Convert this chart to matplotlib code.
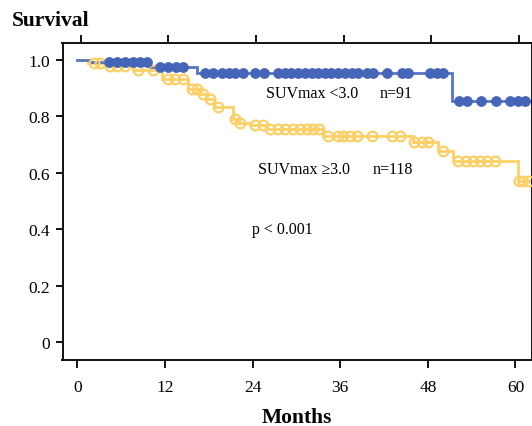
import numpy as np
import matplotlib
matplotlib.use("Agg")
import matplotlib.pyplot as plt

# ---------------- data ----------------
# SUVmax < 3.0 (n=91)
low_step_times = [0.0, 1.7, 9.9, 16.4, 51.26]
low_step_surv = [1.0, 0.992, 0.975, 0.954, 0.856]
low_censor = [4.36, 5.37, 6.5, 7.55, 8.56, 9.47, 11.3, 12.4, 13.5, 14.5,
              17.5, 18.6, 19.75, 20.7, 21.6, 22.7, 24.3, 25.6, 27.5, 28.4,
              29.3, 30.2, 31.2, 32.1, 33.0, 33.9, 34.8, 35.7, 36.6, 37.6,
              38.5, 39.6, 40.5, 42.4, 44.4, 45.3, 48.3, 49.2, 50.1,
              52.2, 53.4, 55.3, 57.4, 59.3, 60.3, 61.3]

# SUVmax >= 3.0 (n=118)
high_step_times = [0.0, 1.44, 3.77, 7.6, 11.58, 15.14, 16.78, 17.74, 18.7,
                   21.3, 21.99, 23.6, 25.9, 33.67, 46.0, 49.42, 51.4, 60.38]
high_step_surv = [1.0, 0.99, 0.978, 0.966, 0.933, 0.897, 0.88, 0.862, 0.834,
                  0.792, 0.778, 0.768, 0.755, 0.732, 0.709, 0.679, 0.643, 0.573]
high_censor = [2.3, 3.08, 4.45, 5.37, 6.5, 8.33, 10.38, 12.44, 13.36, 14.49,
               15.64, 16.33, 17.23, 18.15, 19.29, 21.58, 22.26, 24.32, 25.45,
               26.37, 27.5, 28.42, 29.56, 30.48, 31.4, 32.3, 33.12, 34.27,
               35.73, 36.41, 37.33, 38.25, 40.3, 43.04, 44.18, 46.1, 47.15,
               48.05, 50.1, 52.16, 53.2, 54.2, 55.14, 56.05, 57.19, 60.45,
               61.07, 61.9]

end_time = 62.5
x_ticks = [0, 12, 24, 36, 48, 60]
y_ticks = [0, 0.2, 0.4, 0.6, 0.8, 1.0]
y_tick_labels = ["0", "0.2", "0.4", "0.6", "0.8", "1.0"]

BLUE = "#4565b8"
BLUE_LINE = "#5577c4"
YELLOW = "#fcd066"

plt.rcParams['font.family'] = ['Liberation Serif', 'DejaVu Serif']

W, H = 532, 427
fig = plt.figure(figsize=(W / 100, H / 100), dpi=100)
ax = fig.add_axes([62.5 / W, 1 - 361 / H, (531.5 - 62.5) / W, (361 - 44) / H])


def level_at(times, surv, t):
    idx = np.searchsorted(times, t, side='right') - 1
    return np.asarray(surv)[idx]


def draw_curve(times, surv, censor, color, line_color, filled):
    xs = list(times) + [end_time]
    ys = list(surv) + [surv[-1]]
    ax.step(xs, ys, where='post', color=line_color, lw=2.0, zorder=2,
            solid_joinstyle='miter')
    cy = level_at(times, surv, np.asarray(censor))
    if filled:
        ax.plot(censor, cy, 'o', ms=7.2, mfc=color, mec=color, mew=0.5,
                zorder=4, ls='none')
    else:
        ax.plot(censor, cy, 'o', ms=7.0, mfc='none', mec=color, mew=1.6,
                zorder=3, ls='none')


draw_curve(high_step_times, high_step_surv, high_censor, YELLOW, YELLOW, False)
draw_curve(low_step_times, low_step_surv, low_censor, BLUE, BLUE_LINE, True)

ax.set_xlim(-2.05, 62.2)
ax.set_ylim(-0.062, 1.06)
ax.set_xticks(x_ticks)
ax.set_xticklabels([str(t) for t in x_ticks], fontsize=12.5)
ax.set_yticks(y_ticks)
ax.set_yticklabels(y_tick_labels, fontsize=12.5)
ax.tick_params(axis='x', direction='out', length=6, width=1.3, pad=8)
ax.tick_params(axis='y', direction='out', length=5, width=1.3, pad=4)
for s in ax.spines.values():
    s.set_linewidth(1.4)
    s.set_color('#111111')

sec = ax.secondary_xaxis('top', functions=(lambda x: x - 0.45, lambda x: x + 0.45))
sec.set_xticks(x_ticks)
sec.set_xticklabels([])
sec.tick_params(direction='out', length=6, width=1.3)
sec.spines['top'].set_visible(False)

# labels
fig.text(12 / W, 1 - 21 / H, "Survival", fontsize=15.5, fontweight='bold',
         ha='left', va='center')
fig.text(297 / W, 1 - 418 / H, "Months", fontsize=15.5, fontweight='bold',
         ha='center', va='center')

fig.text(266 / W, 1 - 94 / H, "SUVmax <3.0", fontsize=11.5, ha='left', va='center')
fig.text(380 / W, 1 - 94 / H, "n=91", fontsize=11.5, ha='left', va='center')
fig.text(258 / W, 1 - 170 / H, "SUVmax \u22653.0", fontsize=11.5, ha='left', va='center')
fig.text(372.7 / W, 1 - 170 / H, "n=118", fontsize=11.5, ha='left', va='center')
fig.text(252 / W, 1 - 230 / H, "p < 0.001", fontsize=11.5, ha='left', va='center')

fig.savefig("out.png", dpi=100)
